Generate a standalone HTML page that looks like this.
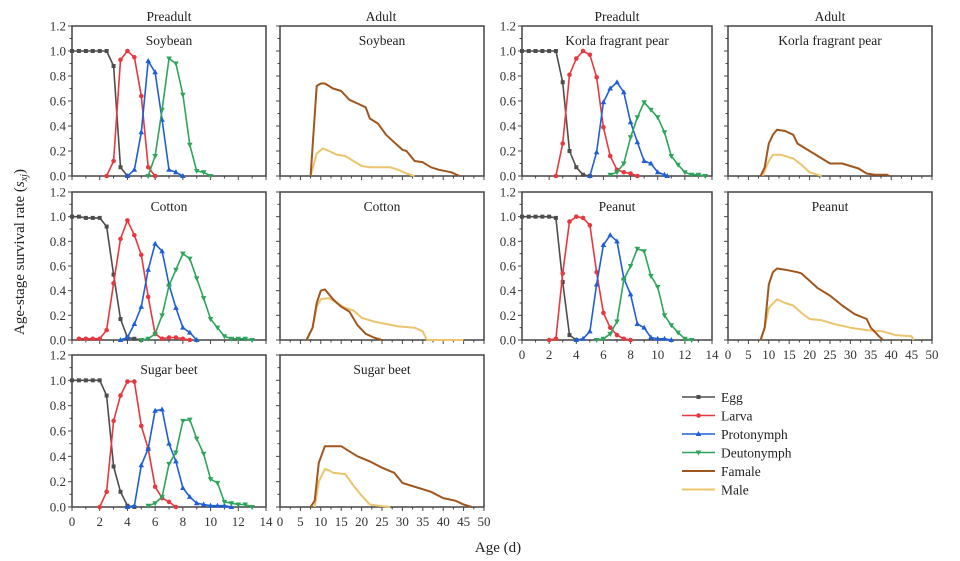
<!DOCTYPE html>
<html><head><meta charset="utf-8">
<style>
html,body{margin:0;padding:0;background:#fff;}
svg{display:block;font-family:"Liberation Serif",serif;}
</style></head>
<body>
<svg id="chart" width="960" height="561" viewBox="0 0 960 561" xmlns="http://www.w3.org/2000/svg">
<text transform="translate(24,252) rotate(-90)" text-anchor="middle" font-size="15" fill="#222">Age-stage survival rate (<tspan font-style="italic">s</tspan><tspan font-style="italic" font-size="10" dy="3">xj</tspan><tspan dy="-3">)</tspan></text>
<text x="498" y="552" text-anchor="middle" font-size="15" fill="#222">Age (d)</text>
<text x="169" y="21" text-anchor="middle" font-size="13.5" fill="#222">Preadult</text>
<text x="381" y="21" text-anchor="middle" font-size="13.5" fill="#222">Adult</text>
<text x="617" y="21" text-anchor="middle" font-size="13.5" fill="#222">Preadult</text>
<text x="830" y="21" text-anchor="middle" font-size="13.5" fill="#222">Adult</text>
</svg>
<script>
// ---- data (age, survival) ----
const soybeanEgg=[[0,1],[0.5,1],[1,1],[1.5,1],[2,1],[2.5,1],[3,0.88],[3.5,0.07],[4,0]];
const soybeanLarva=[[2.5,0],[3,0.12],[3.5,0.93],[4,1],[4.5,0.95],[5,0.64],[5.5,0.07],[6,0]];
const soybeanProto=[[4,0],[4.5,0.05],[5,0.35],[5.5,0.92],[6,0.83],[6.5,0.45],[7,0.05],[7.5,0.03],[8,0]];
const soybeanDeuto=[[5.5,0],[6,0.16],[6.5,0.53],[7,0.94],[7.5,0.9],[8,0.65],[8.5,0.25],[9,0.04],[9.5,0.03],[10,0]];
const soybeanFemale=[[7.5,0],[9,0.72],[10,0.74],[11,0.74],[12,0.72],[13,0.7],[15,0.68],[17,0.61],[19,0.58],[21,0.55],[22,0.46],[24,0.42],[26,0.33],[28,0.27],[30,0.21],[31,0.2],[33,0.12],[35,0.11],[37,0.07],[39,0.05],[42,0.03],[44,0]];
const soybeanMale=[[7.5,0],[9,0.18],[10.5,0.22],[12,0.2],[14,0.17],[16,0.16],[18,0.12],[20,0.08],[22,0.07],[27,0.07],[29,0.05],[31,0.02],[33,0]];

const cottonEgg=[[0,1],[0.5,1],[1,0.99],[1.5,0.99],[2,0.99],[2.5,0.92],[3,0.53],[3.5,0.17],[4,0.02],[4.5,0.01],[5,0]];
const cottonLarva=[[0.5,0.01],[1,0.01],[1.5,0.01],[2,0.01],[2.5,0.08],[3,0.46],[3.5,0.82],[4,0.97],[4.5,0.85],[5,0.69],[5.5,0.35],[6,0.05],[6.5,0.01],[7,0.02],[7.5,0.02],[8,0.01],[8.5,0]];
const cottonProto=[[3.5,0],[4,0.02],[4.5,0.13],[5,0.27],[5.5,0.57],[6,0.78],[6.5,0.72],[7,0.45],[7.5,0.26],[8,0.1],[8.5,0.06],[9,0]];
const cottonDeuto=[[5,0],[5.5,0.01],[6,0.05],[6.5,0.2],[7,0.44],[7.5,0.57],[8,0.7],[8.5,0.66],[9,0.5],[9.5,0.34],[10,0.17],[10.5,0.1],[11,0.03],[11.5,0.01],[12,0.01],[12.5,0.01],[13,0]];
const cottonFemale=[[6.5,0],[8,0.1],[9,0.3],[10,0.4],[11,0.41],[12,0.37],[13,0.33],[15,0.27],[17,0.23],[19,0.12],[21,0.05],[23,0.02],[25,0]];
const cottonMale=[[6.5,0],[8,0.1],[9,0.27],[10,0.33],[12,0.34],[14,0.3],[16,0.26],[18,0.24],[20,0.18],[23,0.15],[26,0.13],[29,0.11],[33,0.1],[35,0.07],[36,0],[45,0]];

const beetEgg=[[0,1],[0.5,1],[1,1],[1.5,1],[2,1],[2.5,0.88],[3,0.32],[3.5,0.12],[4,0.01],[4.5,0]];
const beetLarva=[[2,0],[2.5,0.12],[3,0.68],[3.5,0.88],[4,0.99],[4.5,0.99],[5,0.64],[5.5,0.46],[6,0.16],[6.5,0.07],[7,0.04],[7.5,0]];
const beetProto=[[4,0],[4.5,0.01],[5,0.33],[5.5,0.46],[6,0.76],[6.5,0.77],[7,0.5],[7.5,0.36],[8,0.15],[8.5,0.08],[9,0.03],[9.5,0.02],[10,0.01],[10.5,0.01],[11,0.01],[11.5,0]];
const beetDeuto=[[5.5,0.01],[6,0.03],[6.5,0.08],[7,0.34],[7.5,0.43],[8,0.68],[8.5,0.69],[9,0.54],[9.5,0.42],[10,0.22],[10.5,0.19],[11,0.04],[11.5,0.03],[12,0.02],[12.5,0.02],[13,0]];
const beetFemale=[[7.5,0],[8.5,0.05],[9.5,0.35],[11,0.48],[15,0.48],[17,0.44],[19,0.4],[22,0.36],[25,0.31],[28,0.27],[30,0.19],[34,0.15],[37,0.12],[40,0.07],[43,0.05],[45,0.02],[47,0]];
const beetMale=[[8.5,0],[9.5,0.2],[11,0.3],[12,0.29],[13,0.27],[16,0.26],[18,0.17],[20,0.09],[22,0.02],[24,0.01],[27,0]];

const korlaEgg=[[0,1],[0.5,1],[1,1],[1.5,1],[2,1],[2.5,1],[3,0.75],[3.5,0.2],[4,0.07],[4.5,0.01],[5,0]];
const korlaLarva=[[2.5,0],[3,0.26],[3.5,0.81],[4,0.94],[4.5,1],[5,0.97],[5.5,0.79],[6,0.39],[6.5,0.16],[7,0.05],[7.5,0.03],[8,0.02],[8.5,0]];
const korlaProto=[[5,0],[5.5,0.19],[6,0.59],[6.5,0.7],[7,0.75],[7.5,0.67],[8,0.43],[8.5,0.27],[9,0.12],[9.5,0.1],[10,0.03],[10.5,0.01],[10.7,0]];
const korlaDeuto=[[6.5,0.01],[7,0.03],[7.5,0.1],[8,0.31],[8.5,0.47],[9,0.59],[9.5,0.53],[10,0.47],[10.5,0.35],[11,0.16],[11.5,0.09],[12,0.03],[12.5,0.01],[13,0.01],[13.5,0]];
const korlaFemale=[[8,0],[9,0.07],[10,0.26],[11,0.33],[12,0.37],[14,0.36],[16,0.33],[17,0.26],[19,0.22],[22,0.16],[25,0.1],[28,0.1],[30,0.08],[32,0.06],[34,0.02],[36,0.01],[39,0.01],[39.5,0]];
const korlaMale=[[8.5,0],[10,0.12],[11,0.17],[13,0.17],[14,0.16],[16,0.14],[18,0.09],[20,0.03],[22,0.01],[23,0]];

const peanutEgg=[[0,1],[0.5,1],[1,1],[1.5,1],[2,1],[2.5,0.99],[3,0.47],[3.5,0.04],[4,0]];
const peanutLarva=[[2,0],[2.5,0.01],[3,0.54],[3.5,0.96],[4,1],[4.5,0.99],[5,0.93],[5.5,0.55],[6,0.22],[6.5,0.1],[7,0.04],[7.5,0.01],[8,0]];
const peanutProto=[[4,0],[4.5,0.01],[5,0.07],[5.5,0.45],[6,0.77],[6.5,0.85],[7,0.8],[7.5,0.5],[8,0.37],[8.5,0.13],[9,0.1],[9.5,0.02],[10,0.01],[10.5,0.01],[11,0]];
const peanutDeuto=[[5.5,0],[6,0.01],[6.5,0.05],[7,0.15],[7.5,0.49],[8,0.6],[8.5,0.74],[9,0.72],[9.5,0.52],[10,0.43],[10.5,0.2],[11,0.12],[11.5,0.06],[12,0.01],[12.5,0]];
const peanutFemale=[[8,0],[9,0.1],[10,0.45],[11,0.55],[12,0.58],[14,0.57],[17,0.55],[18,0.54],[20,0.48],[22,0.42],[25,0.36],[28,0.28],[31,0.21],[34,0.17],[35,0.1],[37,0.03],[38,0]];
const peanutMale=[[8,0],[9,0.1],[10,0.26],[12,0.33],[14,0.3],[16,0.28],[18,0.22],[20,0.17],[23,0.16],[26,0.13],[30,0.1],[34,0.08],[38,0.07],[41,0.04],[45,0.03],[45.5,0]];

const preTicks=[0,2,4,6,8,10,12,14];
const adultTicks=[0,5,10,15,20,25,30,35,40,45,50];
const yTicks=[0,0.2,0.4,0.6,0.8,1.0,1.2];
const legendLabels=["Egg","Larva","Protonymph","Deutonymph","Famale","Male"];

const C={egg:"#4d4d4d",larva:"#e8373f",proto:"#1f5fd6",deuto:"#2ea55a",female:"#a0561c",male:"#ebc46e"};
const NS="http://www.w3.org/2000/svg";
const svg=document.getElementById('chart');
function mk(tag,attrs,parent){const e=document.createElementNS(NS,tag);for(const k in attrs)e.setAttribute(k,attrs[k]);(parent||svg).appendChild(e);return e;}

function panel(cfg){
  const g=mk('g',{});
  
  
  const sx=v=>cfg.x0+(v-0)/(cfg.xmax)*(cfg.x1-cfg.x0);
  const sy=v=>cfg.y0-(v/1.2)*(cfg.y0-cfg.y1);
  const frame=mk('rect',{x:cfg.x0,y:cfg.y1,width:cfg.x1-cfg.x0,height:cfg.y0-cfg.y1,fill:'none',stroke:'#444','stroke-width':1.5},g);
  
  
  // y ticks
  for(let i=0;i<=12;i++){const v=i/10;const y=sy(v);const L=(i%2===0)?4:2.5;
    mk('line',{x1:cfg.x0-L,x2:cfg.x0,y1:y,y2:y,stroke:'#444','stroke-width':1},g);}
  if(cfg.ylabels){yTicks.forEach(v=>{const t=mk('text',{x:cfg.x0-6,y:sy(v)+4.5,'text-anchor':'end','font-size':13,fill:'#333'},g);t.textContent=v.toFixed(1);
    
    });}
  // x ticks
  const ticks=cfg.pre?preTicks:adultTicks;const minor=cfg.pre?1:2.5;
  for(let v=0;v<=cfg.xmax+1e-9;v+=minor){const x=sx(v);const major=Math.abs(v/(cfg.pre?2:5)-Math.round(v/(cfg.pre?2:5)))<1e-6;
    mk('line',{x1:x,x2:x,y1:cfg.y0,y2:cfg.y0+(major?4:2.5),stroke:'#444','stroke-width':1},g);}
  if(cfg.xlabels){ticks.forEach(v=>{const t=mk('text',{x:sx(v),y:cfg.y0+19,'text-anchor':'middle','font-size':13,fill:'#333'},g);t.textContent=v;
    
    });}
  const lab=mk('text',{x:(cfg.x0+cfg.x1)/2,y:cfg.y1+19,'text-anchor':'middle','font-size':13.5,fill:'#222'},g);
  lab.textContent=cfg.label;
  
  
  cfg.series.forEach(s=>{
    const d=s.data.map((p,i)=>(i?'L':'M')+sx(p[0]).toFixed(1)+','+sy(p[1]).toFixed(1)).join(' ');
    const path=mk('path',{d:d,fill:'none',stroke:s.color,'stroke-width':cfg.pre?1.6:2,'stroke-linejoin':'round'},g);
    
    
    if(s.marker){s.data.forEach(p=>{const x=sx(p[0]),y=sy(p[1]);let m;
      if(s.marker==='sq')m=mk('rect',{x:x-2,y:y-2,width:4,height:4,fill:s.color},g);
      else if(s.marker==='c')m=mk('circle',{cx:x,cy:y,r:2.3,fill:s.color},g);
      else if(s.marker==='tu')m=mk('path',{d:`M${x},${y-3}L${x+2.8},${y+2}L${x-2.8},${y+2}Z`,fill:s.color},g);
      else m=mk('path',{d:`M${x},${y+3}L${x+2.8},${y-2}L${x-2.8},${y-2}Z`,fill:s.color},g);
      
      });}
  });
}
function preSeries(e,l,p,d){return [{key:'egg',data:e,color:C.egg,marker:'sq'},{key:'larva',data:l,color:C.larva,marker:'c'},{key:'protonymph',data:p,color:C.proto,marker:'tu'},{key:'deutonymph',data:d,color:C.deuto,marker:'td'}];}
function adSeries(f,m){return [{key:'male',data:m,color:C.male},{key:'female',data:f,color:C.female}];}
const R1={y0:176,y1:26},R2={y0:340,y1:192},R3={y0:507,y1:355};
const P1={x0:72,x1:266},P2={x0:280,x1:484},P3={x0:522,x1:712},P4={x0:728,x1:932};
panel({name:'panel-soybean-preadult',...P1,...R1,pre:true,xmax:14,ylabels:true,xlabels:false,label:'Soybean',series:preSeries(soybeanEgg,soybeanLarva,soybeanProto,soybeanDeuto)});
panel({name:'panel-soybean-adult',...P2,...R1,pre:false,xmax:50,ylabels:false,xlabels:false,label:'Soybean',series:adSeries(soybeanFemale,soybeanMale)});
panel({name:'panel-cotton-preadult',...P1,...R2,pre:true,xmax:14,ylabels:true,xlabels:false,label:'Cotton',series:preSeries(cottonEgg,cottonLarva,cottonProto,cottonDeuto)});
panel({name:'panel-cotton-adult',...P2,...R2,pre:false,xmax:50,ylabels:false,xlabels:false,label:'Cotton',series:adSeries(cottonFemale,cottonMale)});
panel({name:'panel-sugarbeet-preadult',...P1,...R3,pre:true,xmax:14,ylabels:true,xlabels:true,label:'Sugar beet',series:preSeries(beetEgg,beetLarva,beetProto,beetDeuto)});
panel({name:'panel-sugarbeet-adult',...P2,...R3,pre:false,xmax:50,ylabels:false,xlabels:true,label:'Sugar beet',series:adSeries(beetFemale,beetMale)});
panel({name:'panel-korla-preadult',...P3,...R1,pre:true,xmax:14,ylabels:true,xlabels:false,label:'Korla fragrant pear',series:preSeries(korlaEgg,korlaLarva,korlaProto,korlaDeuto)});
panel({name:'panel-korla-adult',...P4,...R1,pre:false,xmax:50,ylabels:false,xlabels:false,label:'Korla fragrant pear',series:adSeries(korlaFemale,korlaMale)});
panel({name:'panel-peanut-preadult',...P3,...R2,pre:true,xmax:14,ylabels:true,xlabels:true,label:'Peanut',series:preSeries(peanutEgg,peanutLarva,peanutProto,peanutDeuto)});
panel({name:'panel-peanut-adult',...P4,...R2,pre:false,xmax:50,ylabels:false,xlabels:true,label:'Peanut',series:adSeries(peanutFemale,peanutMale)});

// legend
const legColors=[C.egg,C.larva,C.proto,C.deuto,C.female,C.male];
const legMarkers=['sq','c','tu','td',null,null];
const lg=mk('g',{});


legendLabels.forEach((t,i)=>{
  const y=397+i*18.5;
  const it=mk('g',{},lg);
  
  
  mk('line',{x1:682,x2:715,y1:y,y2:y,stroke:legColors[i],'stroke-width':i>3?2:1.6},it);
  const mx=698.5;
  if(legMarkers[i]==='sq')mk('rect',{x:mx-2,y:y-2,width:4,height:4,fill:legColors[i]},it);
  else if(legMarkers[i]==='c')mk('circle',{cx:mx,cy:y,r:2.3,fill:legColors[i]},it);
  else if(legMarkers[i]==='tu')mk('path',{d:`M${mx},${y-3}L${mx+2.8},${y+2}L${mx-2.8},${y+2}Z`,fill:legColors[i]},it);
  else if(legMarkers[i]==='td')mk('path',{d:`M${mx},${y+3}L${mx+2.8},${y-2}L${mx-2.8},${y-2}Z`,fill:legColors[i]},it);
  const tx=mk('text',{x:721,y:y+5,'font-size':13.5,fill:'#222'},it);tx.textContent=t;
});
</script>
</body></html>
